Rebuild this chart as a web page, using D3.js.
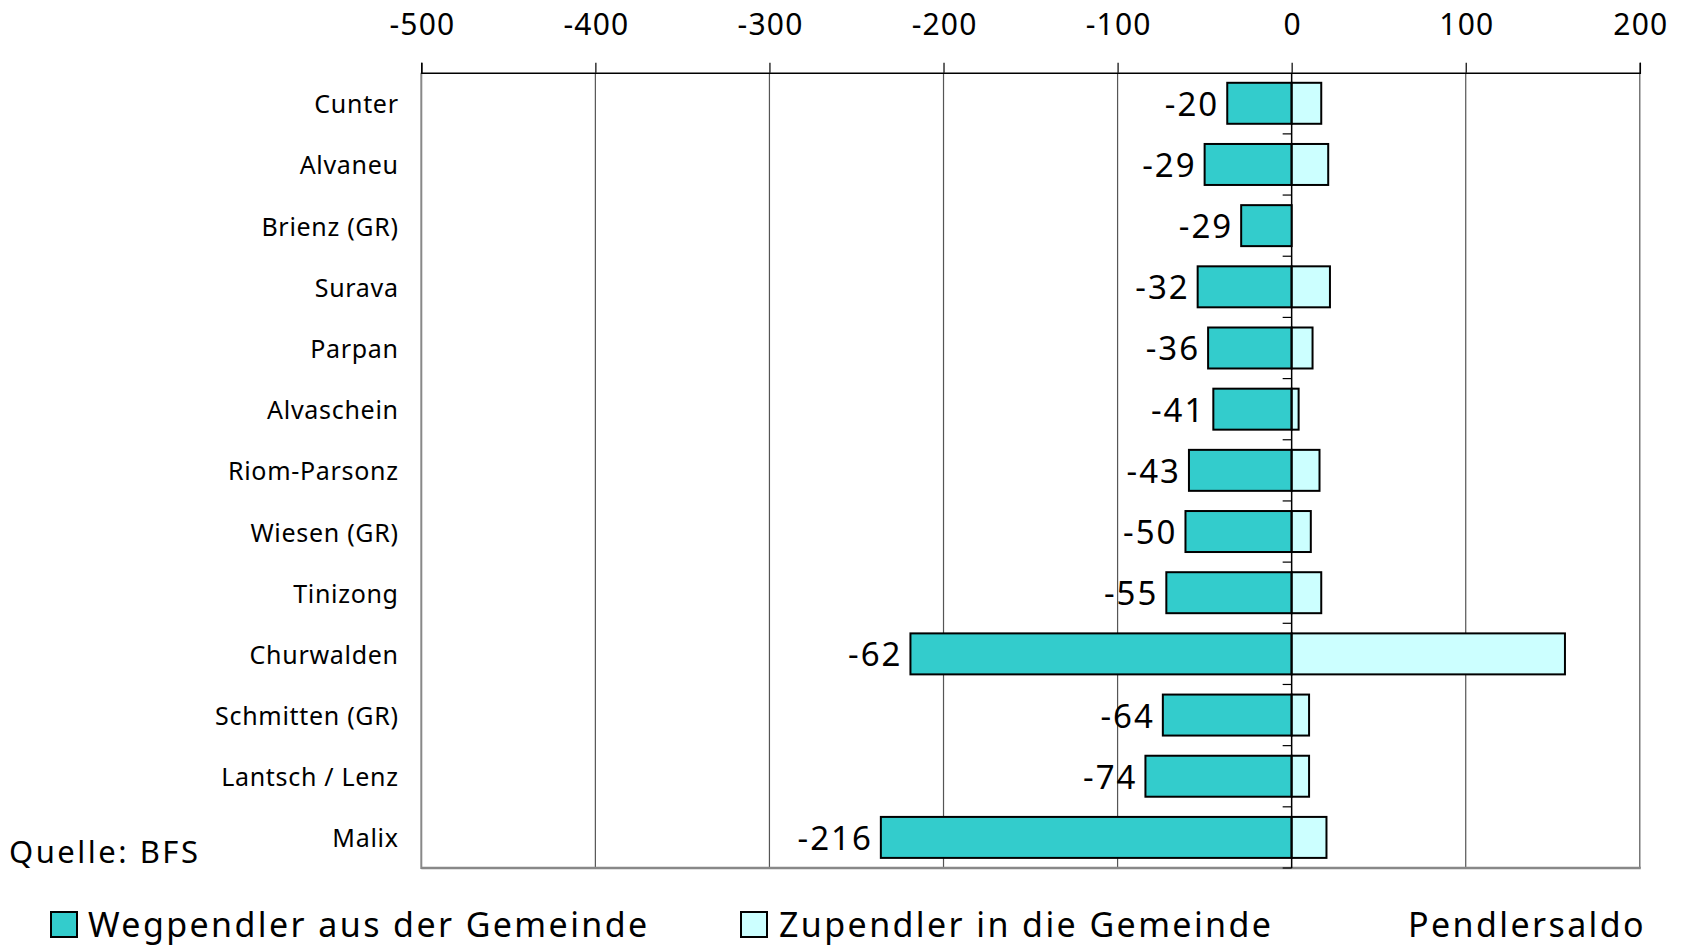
<!DOCTYPE html>
<html>
<head>
<meta charset="utf-8">
<script src="https://cdn.jsdelivr.net/npm/d3@7"></script>
<style>
  html, body { margin: 0; padding: 0; background: #fff; }
  svg { display: block; font-family: "Noto Sans", Lato, sans-serif; }
</style>
</head>
<body>
<svg id="chart" width="1683" height="946"></svg>
<script>
const categories = ["Cunter","Alvaneu","Brienz (GR)","Surava","Parpan","Alvaschein","Riom-Parsonz","Wiesen (GR)","Tinizong","Churwalden","Schmitten (GR)","Lantsch / Lenz","Malix"];
const wegpendler = [-37,-50,-29,-54,-48,-45,-59,-61,-72,-219,-74,-84,-236];
const zupendler = [17,21,0,22,12,4,16,11,17,157,10,10,20];
const pendlersaldo = [-20,-29,-29,-32,-36,-41,-43,-50,-55,-62,-64,-74,-216];
const xTicks = [-500,-400,-300,-200,-100,0,100,200];
const seriesNames = ["Wegpendler aus der Gemeinde","Zupendler in die Gemeinde","Pendlersaldo"];
const source = "Quelle: BFS";

const FONT = "'Noto Sans', Lato, sans-serif";
const svg = d3.select("#chart");
const pLeft = 421.3, pRight = 1639.8, pTop = 72.7, pBottom = 868;

const x = d3.scaleLinear().domain([-500, 200]).range([pLeft, pRight]);
const y = d3.scaleBand().domain(categories).range([pTop, pBottom]).paddingInner(0.33).paddingOuter(0.165);

// gridlines
svg.append("g").selectAll("line").data(xTicks.filter(d => d !== -500 && d !== 0))
  .join("line")
  .attr("x1", d => x(d)).attr("x2", d => x(d))
  .attr("y1", pTop).attr("y2", pBottom)
  .attr("stroke", "#555").attr("stroke-width", 1.2);

// frame left and bottom (gray)
svg.append("line").attr("x1", pLeft).attr("x2", pLeft).attr("y1", pTop).attr("y2", pBottom + 1)
  .attr("stroke", "#888").attr("stroke-width", 2);
svg.append("line").attr("x1", pLeft).attr("x2", pRight + 1).attr("y1", pBottom).attr("y2", pBottom)
  .attr("stroke", "#888").attr("stroke-width", 2.5);

// top axis
const xAxis = d3.axisTop(x).tickValues(xTicks).tickSize(10).tickPadding(28).tickFormat(d => String(d));
const gx = svg.append("g").attr("transform", `translate(0,${pTop})`).call(xAxis);
gx.select(".domain").attr("stroke", "#000").attr("stroke-width", 1.5);
gx.selectAll(".tick line").attr("stroke", "#000").attr("stroke-width", 1.2);
gx.selectAll(".tick text").attr("font-size", 30).attr("fill", "#000")
  .attr("font-family", FONT).attr("letter-spacing", 1.2).attr("dx", 0.6);

// bars
const idx = d3.range(categories.length);
svg.append("g").selectAll("rect").data(idx).join("rect")
  .attr("x", i => x(wegpendler[i])).attr("width", i => x(0) - x(wegpendler[i]))
  .attr("y", i => y(categories[i])).attr("height", y.bandwidth())
  .attr("fill", "#33CCCC").attr("stroke", "#000").attr("stroke-width", 2);
svg.append("g").selectAll("rect").data(idx.filter(i => zupendler[i] > 0)).join("rect")
  .attr("x", x(0)).attr("width", i => x(zupendler[i]) - x(0))
  .attr("y", i => y(categories[i])).attr("height", y.bandwidth())
  .attr("fill", "#CCFFFF").attr("stroke", "#000").attr("stroke-width", 2);

// zero axis with ticks at category boundaries
const bounds = d3.range(1, categories.length + 1).map(k => pTop + k * (pBottom - pTop) / categories.length);
svg.append("line").attr("x1", x(0)).attr("x2", x(0)).attr("y1", pTop).attr("y2", pBottom)
  .attr("stroke", "#000").attr("stroke-width", 1.5);
svg.append("g").selectAll("line").data(bounds).join("line")
  .attr("x1", x(0) - 9).attr("x2", x(0)).attr("y1", d => d).attr("y2", d => d)
  .attr("stroke", "#000").attr("stroke-width", 1.2);

// category labels
svg.append("g").selectAll("text").data(categories).join("text")
  .attr("x", 398.7).attr("y", d => y(d) + y.bandwidth() / 2)
  .attr("text-anchor", "end").attr("dominant-baseline", "central")
  .attr("font-size", 25).attr("letter-spacing", 0.7).attr("fill", "#000").text(d => d);

// value labels
svg.append("g").selectAll("text").data(idx).join("text")
  .attr("x", i => x(wegpendler[i]) - 8).attr("y", i => y(categories[i]) + y.bandwidth() / 2)
  .attr("text-anchor", "end").attr("dominant-baseline", "central")
  .attr("font-size", 33).attr("letter-spacing", 2).attr("fill", "#000").text(i => pendlersaldo[i]);

// source
svg.append("text").attr("x", 9).attr("y", 863).attr("font-size", 31).attr("letter-spacing", 2.5)
  .attr("fill", "#000").text(source);

// legend
const lg = svg.append("g");
const legendItems = [
  {name: seriesNames[0], fill: "#33CCCC", sx: 51, tx: 88},
  {name: seriesNames[1], fill: "#CCFFFF", sx: 741, tx: 779},
  {name: seriesNames[2], fill: null, sx: null, tx: 1408}
];
legendItems.forEach(it => {
  if (it.fill) {
    lg.append("rect").attr("x", it.sx).attr("y", 912).attr("width", 26).attr("height", 25)
      .attr("fill", it.fill).attr("stroke", "#000").attr("stroke-width", 2);
  }
  lg.append("text").attr("x", it.tx).attr("y", 937).attr("font-size", 34).attr("letter-spacing", 2.4)
    .attr("fill", "#000").text(it.name);
});
</script>
</body>
</html>
